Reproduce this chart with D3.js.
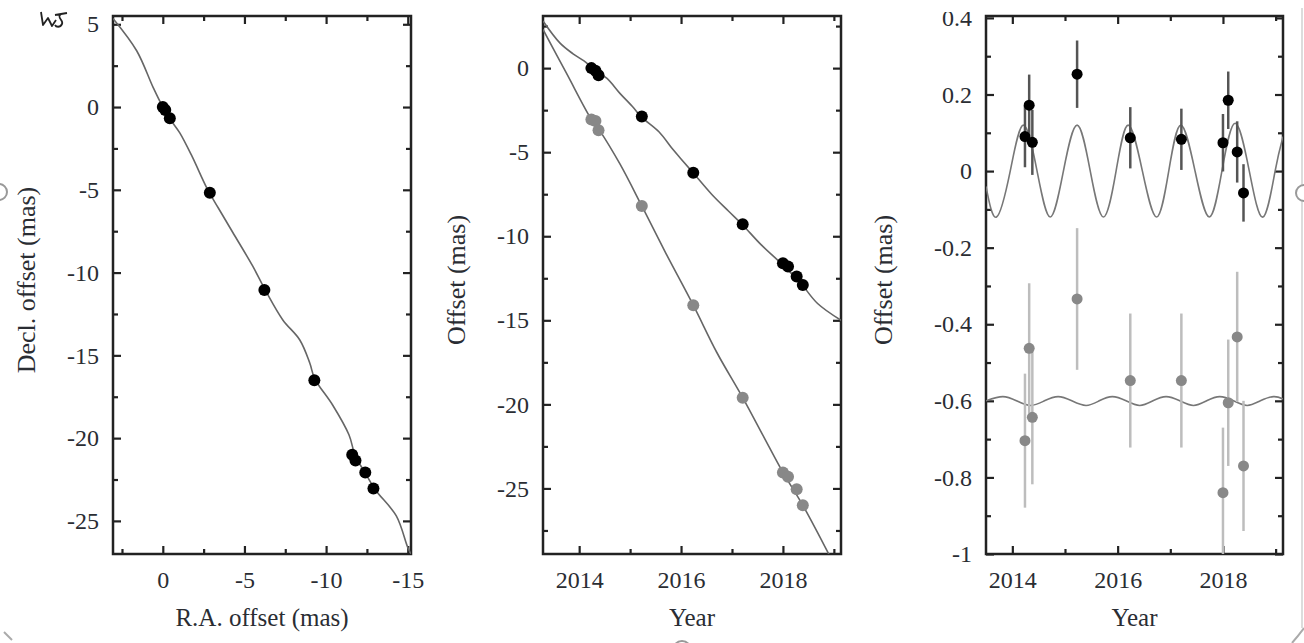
<!DOCTYPE html>
<html>
<head>
<meta charset="utf-8">
<script src="https://cdn.jsdelivr.net/npm/d3@7"></script>
<style>
  body { margin: 0; background: #fff; }
  svg text { font-family: "Liberation Serif", "Times New Roman", serif; fill: #2a2d33; }
</style>
</head>
<body>
<div class="chart"></div>
<script>
// observation epochs (shared by all three panels)
const epochs = [2014.24, 2014.32, 2014.38, 2015.23, 2016.24, 2017.21, 2018.0, 2018.1, 2018.27, 2018.39];

// panel 1 + panel 2: measured offsets (mas)
const raOffset = [0, -0.15, -0.43, -2.88, -6.22, -9.28, -11.6, -11.8, -12.4, -12.9];
const decOffset = [0, -0.18, -0.68, -5.18, -11.05, -16.5, -21.0, -21.35, -22.08, -23.05];
// panel 2 grey series: decl. as drawn (shifted down)
const decShown = [-3.05, -3.15, -3.7, -8.2, -14.1, -19.6, -24.05, -24.3, -25.05, -26.0];

// panel 3: residuals with error bars
const raResid = [0.09, 0.172, 0.075, 0.253, 0.087, 0.083, 0.074, 0.185, 0.05, -0.057];
const raErr = [0.08, 0.08, 0.085, 0.088, 0.08, 0.08, 0.075, 0.075, 0.08, 0.075];
const decResid = [-0.704, -0.463, -0.643, -0.334, -0.547, -0.547, -0.84, -0.605, -0.433, -0.77];
const decErr = [0.175, 0.17, 0.175, 0.185, 0.175, 0.175, 0.17, 0.165, 0.17, 0.17];

// model track
const trackRA = [3.05, 1.6, 0.6, 0.05, -0.5, -1.04, -1.8, -2.7, -3.4, -4.27, -5.5, -6.3, -7.35, -8.39, -9.0, -9.3, -10.4, -11.4, -11.8, -12.4, -13.0, -14.3, -15.0, -15.2];
const trackDec = [5.35, 3.4, 1.2, 0.1, -0.8, -1.56, -3.0, -4.9, -6.1, -7.55, -9.6, -11.1, -12.86, -14.07, -15.46, -16.4, -18.0, -19.8, -21.1, -22.1, -23.1, -24.7, -26.6, -27.0];

const raFitYear = [2013.29, 2013.62, 2013.88, 2014.15, 2014.3, 2014.54, 2014.8, 2015.05, 2015.22, 2015.57, 2015.83, 2016.0, 2016.23, 2016.6, 2016.93, 2017.2, 2017.57, 2017.96, 2018.35, 2018.68, 2019.14];
const raFit = [2.8, 1.5, 0.85, 0.3, -0.15, -0.6, -1.5, -2.3, -2.9, -3.8, -4.8, -5.4, -6.2, -7.5, -8.5, -9.3, -10.5, -11.6, -12.8, -14.0, -15.0];
const decFitYear = [2013.29, 2013.75, 2014.24, 2014.4, 2014.8, 2015.23, 2015.7, 2016.24, 2016.7, 2017.21, 2017.6, 2018.0, 2018.39, 2018.95];
const decFit = [2.3, -0.3, -3.05, -3.7, -5.7, -8.2, -11.0, -14.1, -16.9, -19.6, -21.8, -24.05, -26.0, -29.2];

// residual model curves
const raWaveYear = [2013.5, 2013.7, 2013.96, 2014.21, 2014.47, 2014.72, 2014.97, 2015.23, 2015.48, 2015.73, 2015.97, 2016.2, 2016.47, 2016.74, 2016.97, 2017.2, 2017.47, 2017.74, 2017.98, 2018.23, 2018.5, 2018.76, 2018.99, 2019.14];
const raWave = [-0.04, -0.12, 0, 0.12, 0, -0.12, 0, 0.12, 0, -0.12, 0, 0.12, 0, -0.12, 0, 0.12, 0, -0.12, 0, 0.125, 0, -0.12, 0, 0.09];
const decWaveYear = [2013.5, 2013.82, 2014.08, 2014.35, 2014.61, 2014.87, 2015.13, 2015.4, 2015.65, 2015.9, 2016.16, 2016.42, 2016.67, 2016.92, 2017.18, 2017.44, 2017.69, 2017.94, 2018.2, 2018.46, 2018.71, 2018.96, 2019.14];
const decWave = [-0.6, -0.589, -0.6, -0.612, -0.6, -0.589, -0.6, -0.612, -0.6, -0.589, -0.6, -0.612, -0.6, -0.589, -0.6, -0.612, -0.6, -0.589, -0.6, -0.612, -0.6, -0.589, -0.595];

// ticks
const offTicks = [5, 0, -5, -10, -15, -20, -25];
const offMinor = [2.5, -2.5, -7.5, -12.5, -17.5, -22.5];
const raTicks = [0, -5, -10, -15];
const raMinor = [2.5, -2.5, -7.5, -12.5];
const yearTicks = [2014, 2016, 2018];
const yearMinor = [2015, 2017, 2019];
const residTicks = [0.4, 0.2, 0, -0.2, -0.4, -0.6, -0.8, -1];
const residMinor = [0.3, 0.1, -0.1, -0.3, -0.5, -0.7, -0.9];

const width = 1304;
const height = 643;
const plotTop = 16, plotBottom = 554;

const svg = d3.select('.chart')
  .append('svg')
  .attr('width', width)
  .attr('height', height)
  .style('background-color', '#fff');

const fmt = d => String(d);

// draws frame, mirrored inward ticks, labels and titles
function panel(id, left, right, x, y, xT, xM, yT, yM, xTitle, yTitle, yTitleX) {
  const w = right - left, h = plotBottom - plotTop;
  const g = svg.append('g').attr('transform', `translate(${left},${plotTop})`);

  g.append('clipPath').attr('id', 'clip' + id)
    .append('rect').attr('width', w).attr('height', h);

  const axes = g.append('g').classed('axes', true);
  axes.append('g').classed('xlab', true).attr('transform', `translate(0,${h})`)
    .call(d3.axisBottom(x).tickValues(xT).tickSize(-8).tickFormat(fmt));
  axes.append('g').attr('transform', `translate(0,${h})`)
    .call(d3.axisBottom(x).tickValues(xM).tickSize(-5).tickFormat(''));
  axes.append('g').call(d3.axisTop(x).tickValues(xT).tickSize(-8).tickFormat(''));
  axes.append('g').call(d3.axisTop(x).tickValues(xM).tickSize(-5).tickFormat(''));
  axes.append('g')
    .call(d3.axisLeft(y).tickValues(yT).tickSize(-8).tickPadding(14).tickFormat(fmt));
  axes.append('g')
    .call(d3.axisLeft(y).tickValues(yM).tickSize(-5).tickFormat(''));
  axes.append('g').attr('transform', `translate(${w},0)`)
    .call(d3.axisRight(y).tickValues(yT).tickSize(-8).tickFormat(''));
  axes.append('g').attr('transform', `translate(${w},0)`)
    .call(d3.axisRight(y).tickValues(yM).tickSize(-5).tickFormat(''));

  // drop d3's sans-serif defaults so the serif face applies
  axes.selectAll('g').attr('font-family', null).attr('font-size', null);
  axes.selectAll('.domain').remove();
  axes.selectAll('line').attr('stroke', '#222').attr('stroke-width', 2.2);
  axes.selectAll('text')
    .style('font-family', '"Liberation Serif", serif')
    .style('font-size', '24px')
    .attr('fill', '#2f333b');
  // bottom labels sit on a fixed baseline
  axes.selectAll('.xlab text').attr('dy', 0).attr('y', 34);

  g.append('rect')
    .attr('width', w).attr('height', h)
    .attr('fill', 'none').attr('stroke', '#222').attr('stroke-width', 2.5);

  g.append('text')
    .attr('x', w / 2).attr('y', 610)
    .attr('text-anchor', 'middle')
    .style('font-size', '25px')
    .text(xTitle);

  g.append('text')
    .attr('transform', `translate(${yTitleX - left},${h / 2 - 5}) rotate(-90)`)
    .attr('text-anchor', 'middle')
    .style('font-size', '26px')
    .text(yTitle);

  return g.append('g').attr('clip-path', `url(#clip${id})`);
}

////////////////// PANEL 1 : sky track //////////////////
const x1 = d3.scaleLinear().domain([3.05, -15.2]).range([0, 411 - 113]);
const y1 = d3.scaleLinear().domain([5.5, -27]).range([0, plotBottom - plotTop]);
const p1 = panel(1, 113, 411, x1, y1, raTicks, raMinor, offTicks, offMinor,
  'R.A. offset (mas)', 'Decl. offset (mas)', 35);

p1.append('path')
  .datum(d3.range(trackRA.length))
  .attr('fill', 'none').attr('stroke', '#666').attr('stroke-width', 1.6)
  .attr('d', d3.line().x(i => x1(trackRA[i])).y(i => y1(trackDec[i])).curve(d3.curveCatmullRom));

p1.selectAll('circle')
  .data(epochs)
  .enter()
  .append('circle')
    .attr('cx', (d, i) => x1(raOffset[i]))
    .attr('cy', (d, i) => y1(decOffset[i]))
    .attr('r', 6)
    .attr('fill', '#000');

////////////////// PANEL 2 : offsets vs year //////////////////
const x2 = d3.scaleLinear().domain([2013.29, 2019.14]).range([0, 841 - 543]);
const y2 = d3.scaleLinear().domain([3.1, -28.9]).range([0, plotBottom - plotTop]);
const p2 = panel(2, 543, 841, x2, y2, yearTicks, yearMinor, offTicks.slice(1), offMinor.concat([-27.5]),
  'Year', 'Offset (mas)', 465);

p2.append('path')
  .datum(d3.range(raFit.length))
  .attr('fill', 'none').attr('stroke', '#666').attr('stroke-width', 1.6)
  .attr('d', d3.line().x(i => x2(raFitYear[i])).y(i => y2(raFit[i])).curve(d3.curveCatmullRom));
p2.append('path')
  .datum(d3.range(decFit.length))
  .attr('fill', 'none').attr('stroke', '#666').attr('stroke-width', 1.6)
  .attr('d', d3.line().x(i => x2(decFitYear[i])).y(i => y2(decFit[i])).curve(d3.curveCatmullRom));

p2.selectAll('circle.dec')
  .data(epochs)
  .enter()
  .append('circle')
    .classed('dec', true)
    .attr('cx', d => x2(d))
    .attr('cy', (d, i) => y2(decShown[i]))
    .attr('r', 6)
    .attr('fill', '#888');
p2.selectAll('circle.ra')
  .data(epochs)
  .enter()
  .append('circle')
    .classed('ra', true)
    .attr('cx', d => x2(d))
    .attr('cy', (d, i) => y2(raOffset[i]))
    .attr('r', 6)
    .attr('fill', '#000');

////////////////// PANEL 3 : residuals //////////////////
const x3 = d3.scaleLinear().domain([2013.5, 2019.14]).range([0, 1283 - 986]);
const y3 = d3.scaleLinear().domain([0.405, -1]).range([0, plotBottom - plotTop]);
const p3 = panel(3, 986, 1283, x3, y3, yearTicks, yearMinor, residTicks, residMinor,
  'Year', 'Offset (mas)', 892);

p3.append('path')
  .datum(d3.range(raWave.length))
  .attr('fill', 'none').attr('stroke', '#777').attr('stroke-width', 1.6)
  .attr('d', d3.line().x(i => x3(raWaveYear[i])).y(i => y3(raWave[i])).curve(d3.curveNatural));
p3.append('path')
  .datum(d3.range(decWave.length))
  .attr('fill', 'none').attr('stroke', '#777').attr('stroke-width', 1.6)
  .attr('d', d3.line().x(i => x3(decWaveYear[i])).y(i => y3(decWave[i])).curve(d3.curveNatural));

// error bars
p3.selectAll('line.decbar')
  .data(epochs)
  .enter()
  .append('line')
    .classed('decbar', true)
    .attr('x1', d => x3(d)).attr('x2', d => x3(d))
    .attr('y1', (d, i) => y3(decResid[i] + decErr[i]))
    .attr('y2', (d, i) => y3(decResid[i] - decErr[i]))
    .attr('stroke', '#bdbdbd').attr('stroke-width', 2.5);
p3.selectAll('line.rabar')
  .data(epochs)
  .enter()
  .append('line')
    .classed('rabar', true)
    .attr('x1', d => x3(d)).attr('x2', d => x3(d))
    .attr('y1', (d, i) => y3(raResid[i] + raErr[i]))
    .attr('y2', (d, i) => y3(raResid[i] - raErr[i]))
    .attr('stroke', '#555').attr('stroke-width', 2.5);

p3.selectAll('circle.dec')
  .data(epochs)
  .enter()
  .append('circle')
    .classed('dec', true)
    .attr('cx', d => x3(d))
    .attr('cy', (d, i) => y3(decResid[i]))
    .attr('r', 5.5)
    .attr('fill', '#888');
p3.selectAll('circle.ra')
  .data(epochs)
  .enter()
  .append('circle')
    .classed('ra', true)
    .attr('cx', d => x3(d))
    .attr('cy', (d, i) => y3(raResid[i]))
    .attr('r', 5.5)
    .attr('fill', '#000');

////////////////// leftovers of the page around the figure //////////////////
const deco = svg.append('g').attr('fill', 'none');
// the top of the third panel's first label is cut off in the source
deco.append('rect').attr('x', 925).attr('y', 0).attr('width', 55).attr('height', 12).attr('fill', '#fff');
deco.append('line').attr('x1', 1302).attr('x2', 1302).attr('y1', 8).attr('y2', 628)
  .attr('stroke', '#d0d0d0').attr('stroke-width', 1.5);
deco.append('circle').attr('cx', 1304).attr('cy', 193).attr('r', 8).attr('stroke', '#999').attr('stroke-width', 2).attr('fill', '#fff');
deco.append('circle').attr('cx', -1).attr('cy', 192).attr('r', 8).attr('stroke', '#999').attr('stroke-width', 2).attr('fill', '#fff');
deco.append('circle').attr('cx', 682).attr('cy', 650).attr('r', 9).attr('stroke', '#999').attr('stroke-width', 2).attr('fill', '#fff');
deco.append('path').attr('d', 'M4,632 L12,640').attr('stroke', '#aaa').attr('stroke-width', 2);
deco.append('path').attr('d', 'M1304,628 Q1298,636 1292,643').attr('stroke', '#aaa').attr('stroke-width', 2);
// scribble in the top-left corner
deco.append('path')
  .attr('d', 'M41,12 L43,25 L48,18 L52,26 L56,20 M55,15 L67,13 M61,14 C56,18 64,20 62,24 C60,28 56,27 55,25')
  .attr('stroke', '#222').attr('stroke-width', 1.8).attr('stroke-linejoin', 'round');
</script>
</body>
</html>
